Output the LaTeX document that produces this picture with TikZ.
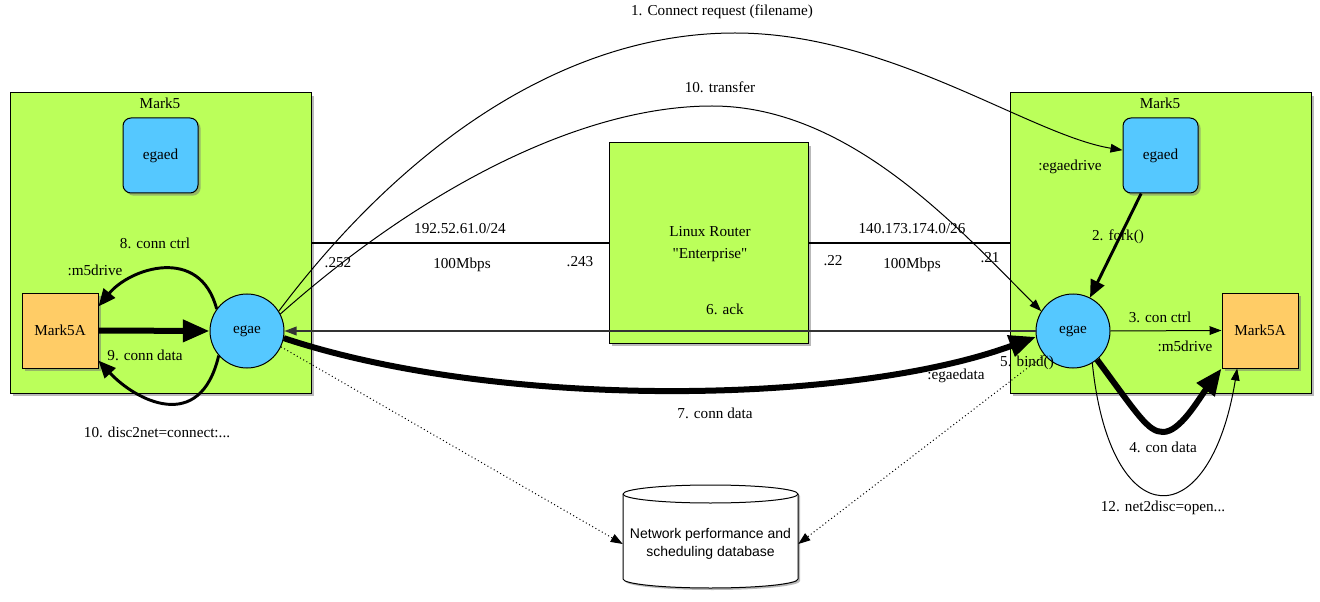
\documentclass[tikz,border=0pt]{standalone}
\usepackage{fontspec}
\setmainfont{Liberation Serif}
\newfontfamily\rawserif{Liberation Serif}[Ligatures=ResetAll]
\newfontfamily\dbfont{Liberation Sans}
\usetikzlibrary{arrows.meta,shadows,calc}
\definecolor{boxgreen}{RGB}{187,255,90}
\definecolor{procblue}{RGB}{85,200,255}
\definecolor{diskorange}{RGB}{255,204,102}
\begin{document}
\begin{tikzpicture}[x=0.75pt,y=-0.75pt,font=\fontsize{11.4}{13}\selectfont,
  shd/.style={drop shadow={shadow xshift=2pt,shadow yshift=-2pt,fill=black!55,opacity=0.5}},
  mkbox/.style={draw,line width=0.75pt,fill=boxgreen,minimum width=225.75pt,minimum height=225pt,inner sep=0pt,shd},
  routerbox/.style={draw,line width=0.75pt,fill=boxgreen,minimum width=149.25pt,minimum height=150pt,inner sep=0pt,shd},
  daemon/.style={draw,line width=0.75pt,fill=procblue,rounded corners=6pt,minimum width=56.25pt,minimum height=56.25pt,inner sep=0pt,shd},
  proc/.style={draw,line width=0.75pt,fill=procblue,circle,minimum size=55.5pt,inner sep=0pt},
  disk/.style={draw,line width=0.75pt,fill=diskorange,minimum width=57pt,minimum height=56.25pt,inner sep=0pt,shd},
  lbl/.style={inner sep=0pt},
  thinarr/.style={line width=0.75pt,-{Triangle[length=9pt,width=6.5pt]}},
  medarr/.style={line width=2.2pt,-{Triangle[length=13pt,width=11pt]}},
  fatarr/.style={line width=4.5pt,-{Triangle[length=20pt,width=16pt]}},
  netline/.style={line width=2.2pt},
  dotarr/.style={line width=0.75pt,dotted,-{Triangle[length=9pt,width=6.5pt]}}
]
\useasboundingbox (0,0) rectangle (1320,602);

% machines
\node[mkbox] (mk5L) at (160.5,243) {};
\node[mkbox] (mk5R) at (1160.5,243) {};
\node[routerbox] (router) at (708.5,243) {};
\node[lbl] (mk5Llbl) at (160,103) {Mark5};
\node[lbl] (mk5Rlbl) at (1160,103) {Mark5};
\node[lbl,align=center] (routerlbl) at (710,244) {Linux Router\\[3pt]{\rawserif"Enterprise"}};

% processes and disks
\node[daemon] (egaedL) at (160.5,155.5) {egaed};
\node[daemon] (egaedR) at (1160.5,155.5) {egaed};
\node[disk] (m5aL) at (60,330.5) {Mark5A};
\node[disk] (m5aR) at (1260,330.5) {Mark5A};
\node[proc] (egaeL) at (247,331) {egae};
\node[proc] (egaeR) at (1073,331) {egae};

% database cylinder
\fill[black!55,opacity=0.5] (625,496) -- (625,581) arc[start angle=180,end angle=0,x radius=87.5,y radius=9] -- (800,496) arc[start angle=0,end angle=-180,x radius=87.5,y radius=9] -- cycle;
\draw[line width=0.75pt,fill=white] (623,494) -- (623,579) arc[start angle=180,end angle=0,x radius=87.5,y radius=9] -- (798,494) arc[start angle=0,end angle=-180,x radius=87.5,y radius=9] -- cycle;
\draw[line width=0.75pt] (623,494) arc[start angle=180,end angle=0,x radius=87.5,y radius=9];
\node[lbl,align=center,font=\dbfont\fontsize{10.5}{13}\selectfont,minimum width=131.25pt] (db) at (710.5,544) {Network performance and\\scheduling database};

% networks
\draw[netline] (mk5L.east) -- (router.west);
\draw[netline] (router.east) -- (mk5R.west);

% left machine local flows
\draw[fatarr] (m5aL.east) -- (egaeL.west);
\draw[medarr] (egaeL.144) .. controls (200,245) and (130,268) .. (m5aL.32);
\draw[medarr] (egaeL.221) .. controls (200,435) and (135,400) .. (m5aL.-38);

% right machine local flows
\draw[medarr] (egaedR.-117) -- (egaeR.63);
\draw[thinarr] (egaeR.east) -- (m5aR.west);
\draw[fatarr] (egaeR.-50) .. controls (1138,415) and (1148,432) .. (1163,432) .. controls (1180,432) and (1198,400) .. (m5aR.south west);
\draw[thinarr] (egaeR.-59) .. controls (1110,537) and (1210,537) .. (m5aR.239);

% wide-area flows
\draw[thinarr] (egaeL.32) .. controls (400,150) and (560,33) .. (735,33) .. controls (890,33) and (1030,135) .. (egaedR.172);
\draw[thinarr] (egaeL.27) .. controls (420,190) and (580,106) .. (712,106) .. controls (850,106) and (960,230) .. (egaeR.148);
\draw[line width=1pt,black!80,-{Triangle[length=9pt,width=6.5pt]}] (egaeR.west) -- (egaeL.east);
\draw[fatarr] (egaeL.-11) .. controls (500,410) and (850,405) .. (egaeR.189);

% database links
\draw[dotarr] (egaeL.-25) -- (db.west);
\draw[dotarr] (egaeR.-140) -- (db.east);

% labels
\node[lbl] (t1) at (722,12) {1. Connect request (filename)};
\node[lbl] (t10) at (720,87) {10. transfer};
\node[lbl] (tegd) at (1070,167) {:egaedrive};
\node[lbl] (t2) at (1118,237) {2. fork()};
\node[lbl] (netL) at (460,229) {192.52.61.0/24};
\node[lbl] (netR) at (912,229) {140.173.174.0/26};
\node[lbl] (a252) at (338,263) {.252};
\node[lbl] (bwL) at (462,265) {100Mbps};
\node[lbl] (a243) at (580,262) {.243};
\node[lbl] (a22) at (833,261) {.22};
\node[lbl] (bwR) at (912,265) {100Mbps};
\node[lbl] (a21) at (990,258) {.21};
\node[lbl] (t8) at (155,243) {8. conn ctrl};
\node[lbl] (m5dL) at (95,270) {:m5drive};
\node[lbl] (t6) at (725,309) {6. ack};
\node[lbl] (t3) at (1160,317) {3. con ctrl};
\node[lbl] (m5dR) at (1185,346) {:m5drive};
\node[lbl] (t9) at (145,355) {9. conn data};
\node[lbl] (t5) at (1027,363) {5. bind()};
\node[lbl] (tegdata) at (956,376) {:egaedata};
\node[lbl] (t7) at (715,413) {7. conn data};
\node[lbl] (t10b) at (157,432) {10. disc2net=connect:...};
\node[lbl] (t4) at (1163,447) {4. con data};
\node[lbl] (t12) at (1163,508) {12. net2disc=open...};
\end{tikzpicture}
\end{document}
